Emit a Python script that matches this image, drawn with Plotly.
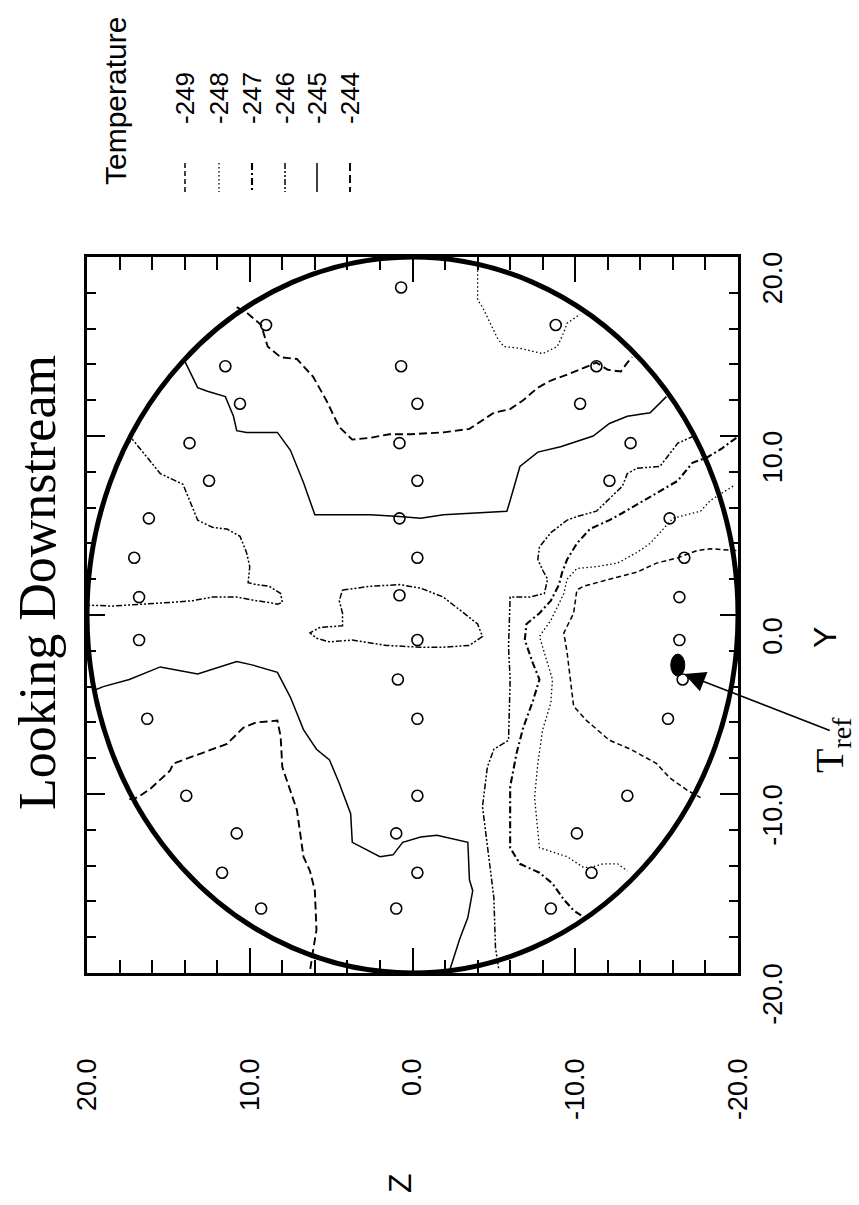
import plotly.graph_objects as go

# ---------------------------------------------------------------------------
# Data: probe rake positions, reference probe and isotherm traces (Z, Y)
# ---------------------------------------------------------------------------
LEVELS = [-249, -248, -247, -246, -245, -244]

TICKS = [-20, -10, 0, 10, 20]
TICK_TEXT = [f"{v:.1f}" for v in TICKS]

PROBE_Z = [0.7, 9.0, 11.5, 0.7, 10.6, -0.3, 13.7, 0.8, 12.5, -0.3, 16.2, 0.8, 17.1, -0.3,
           -8.8, -11.3, -10.3, -13.4, -12.1, -15.8, -16.7,
           16.8, 0.8, 16.8, -0.3, 0.9, 16.3, -0.3, 13.9, -0.3, 10.8, 1.0, 11.7, -0.3, 9.3, 1.0,
           -16.4, -16.4, -16.6, -15.7, -13.2, -10.1, -11.0, -8.5]
PROBE_Y = [18.3, 16.2, 13.9, 13.9, 11.8, 11.8, 9.6, 9.6, 7.5, 7.5, 5.4, 5.4, 3.2, 3.2,
           16.2, 13.9, 11.8, 9.6, 7.5, 5.4, 3.2,
           1.0, 1.1, -1.4, -1.4, -3.6, -5.8, -5.8, -10.1, -10.1, -12.2, -12.2, -14.4, -14.4, -16.4, -16.4,
           1.0, -1.4, -3.6, -5.8, -10.1, -12.2, -14.4, -16.4]

TREF_Z, TREF_Y = -16.3, -2.8
ARROW_TIP_Z, ARROW_TIP_Y = -16.7, -3.3

ISO_249 = [(-19.9, 3.6), (-18.3, 3.7), (-17.5, 3.6), (-16.3, 3.2), (-15.0, 2.9), (-13.8, 2.4),
           (-12.1, 2.0), (-10.5, 1.6), (-10.1, 1.4), (-9.9, 0.1), (-9.3, -1.0), (-9.5, -2.1),
           (-9.7, -3.6), (-9.9, -5.1), (-10.7, -5.9), (-12.1, -7.0), (-13.4, -7.5), (-15.0, -8.3),
           (-15.8, -9.1), (-16.9, -9.8), (-17.7, -10.2)]

ISO_248_LOW = [(-19.7, 7.2), (-18.3, 6.4), (-17.7, 5.8), (-16.9, 5.6), (-16.0, 5.4), (-15.4, 4.8),
               (-14.6, 4.0), (-13.8, 3.5), (-12.6, 2.9), (-11.3, 2.7), (-10.1, 2.6), (-9.5, 2.0),
               (-9.3, 1.2), (-8.5, -0.3), (-7.8, -1.2), (-8.3, -2.7), (-8.6, -3.6), (-8.5, -4.9),
               (-8.0, -6.4), (-7.7, -8.3), (-7.5, -10.2), (-7.8, -13.0), (-9.5, -13.5), (-10.5, -14.1),
               (-11.0, -14.1), (-11.7, -13.9), (-12.6, -13.9), (-13.2, -14.3)]

ISO_248_TOP = [(-4.0, 19.7), (-4.0, 18.7), (-4.0, 17.6), (-4.3, 17.2), (-5.2, 15.5), (-5.6, 15.0),
               (-6.6, 14.9), (-8.0, 14.6), (-8.9, 15.0), (-9.3, 15.8), (-9.5, 16.3), (-10.3, 16.8)]

ISO_247 = [(-19.9, 9.9), (-19.0, 9.3), (-18.1, 8.8), (-17.2, 8.5), (-16.3, 7.5), (-15.0, 6.8),
           (-14.2, 6.4), (-12.9, 5.7), (-12.1, 5.3), (-10.9, 4.8), (-10.1, 4.0), (-9.5, 3.1),
           (-9.2, 2.4), (-9.0, 1.7), (-8.5, 0.8), (-7.8, 0.1), (-7.0, -0.5), (-6.9, -1.4),
           (-7.4, -2.7), (-7.8, -3.6), (-7.4, -4.8), (-6.8, -6.3), (-6.4, -7.7), (-6.0, -9.6),
           (-6.0, -10.7), (-6.0, -13.0), (-6.6, -13.9), (-7.8, -14.4), (-8.6, -15.0), (-9.3, -15.9),
           (-9.9, -16.5), (-10.7, -17.0)]

ISO_246_RIGHT = [(-17.3, 10.0), (-16.3, 9.6), (-15.2, 8.3), (-13.8, 8.2), (-13.2, 7.9), (-12.9, 7.2),
                 (-11.3, 5.8), (-10.1, 5.5), (-9.5, 5.3), (-8.5, 4.6), (-7.8, 3.8), (-7.7, 3.1),
                 (-8.0, 2.5), (-8.3, 2.0), (-8.1, 1.2), (-7.2, 1.0), (-6.0, 1.0), (-5.9, -1.8),
                 (-6.0, -3.6), (-5.9, -7.0), (-5.0, -7.5), (-4.6, -8.5), (-4.3, -10.7), (-4.6, -13.0),
                 (-5.0, -15.8), (-5.1, -18.6), (-5.3, -19.8)]

ISO_246_LEFT = [(17.6, 9.5), (17.2, 9.8), (16.3, 8.8), (15.5, 7.9), (14.1, 7.3), (13.7, 6.4),
                (13.2, 5.3), (12.3, 4.9), (11.4, 4.8), (10.6, 4.4), (10.2, 3.5), (10.0, 2.7),
                (10.1, 1.8), (9.6, 1.7), (8.8, 1.6), (8.1, 1.2), (8.0, 0.7), (8.3, 0.6),
                (8.8, 0.7), (9.6, 0.8), (10.8, 1.0), (12.3, 1.0), (13.5, 0.8), (14.9, 0.7),
                (16.9, 0.6), (18.4, 0.5), (19.95, 0.55)]

ISO_246_ISLAND = [(4.3, 1.4), (2.6, 1.6), (0.8, 1.7), (-0.5, 1.5), (-1.9, 1.0), (-2.9, 0.3),
                  (-4.0, -0.5), (-4.3, -1.2), (-3.5, -1.7), (-1.9, -1.8), (-0.5, -1.8), (1.6, -1.7),
                  (3.7, -1.4), (5.1, -1.5), (5.9, -1.3), (6.3, -1.0), (5.7, -0.7), (4.3, -0.6),
                  (4.3, 0.1), (4.5, 0.8), (4.3, 1.4)]

ISO_245_UPPER = [(14.0, 14.2), (13.2, 12.7), (12.6, 12.5), (11.5, 12.2), (11.0, 11.1), (10.8, 10.3),
                 (10.2, 10.2), (8.3, 10.2), (7.5, 9.2), (6.7, 7.4), (6.0, 5.6), (4.6, 5.6),
                 (2.6, 5.6), (0.8, 5.5), (-0.5, 5.4), (-1.9, 5.6), (-4.0, 5.7), (-5.8, 5.8),
                 (-6.0, 6.4), (-6.6, 8.3), (-7.7, 9.1), (-9.1, 9.4), (-11.1, 10.0), (-12.1, 10.7),
                 (-13.2, 11.1), (-14.6, 11.3), (-15.6, 12.2)]

ISO_245_LOWER = [(19.55, -4.2), (19.0, -4.0), (17.4, -3.6), (15.5, -2.9), (13.2, -3.3), (10.8, -2.6),
                 (9.8, -2.8), (8.3, -3.2), (7.5, -4.6), (6.7, -6.4), (5.9, -7.5), (5.1, -8.1),
                 (4.5, -9.4), (3.8, -11.1), (3.7, -12.7), (2.0, -13.5), (1.2, -13.4), (0.6, -12.7),
                 (-0.5, -12.4), (-1.5, -12.3), (-3.4, -12.7), (-3.5, -14.8), (-3.7, -15.4),
                 (-3.4, -16.9), (-2.9, -18.1), (-2.3, -19.8)]

ISO_244_UPPER = [(10.8, 17.2), (10.2, 16.9), (9.3, 16.2), (8.9, 15.0), (8.1, 14.4), (7.1, 14.3),
                 (6.1, 13.3), (5.3, 12.0), (4.5, 10.5), (3.7, 9.8), (2.6, 9.9), (1.4, 10.1),
                 (0.15, 10.1), (-1.9, 10.2), (-3.5, 10.4), (-4.2, 10.8), (-5.0, 11.3), (-6.0, 11.5),
                 (-6.8, 12.0), (-7.7, 12.7), (-8.5, 13.1), (-9.7, 13.5), (-10.7, 13.9), (-11.3, 14.1),
                 (-12.0, 13.7), (-12.8, 13.6), (-13.2, 14.1), (-13.5, 14.4)]

ISO_244_LOWER = [(17.4, -10.3), (16.9, -10.2), (16.1, -9.7), (14.9, -8.7), (14.7, -8.3), (12.9, -7.7),
                 (11.4, -7.2), (10.4, -6.3), (9.6, -6.0), (8.3, -5.9), (8.1, -6.8), (8.0, -8.5),
                 (7.5, -9.9), (7.1, -10.9), (6.7, -13.5), (6.3, -14.3), (6.0, -15.4), (5.9, -17.6),
                 (6.1, -18.7), (6.3, -19.9)]

ISOTHERMS = [
    (-249, ISO_249),
    (-248, ISO_248_LOW), (-248, ISO_248_TOP),
    (-247, ISO_247),
    (-246, ISO_246_RIGHT), (-246, ISO_246_LEFT), (-246, ISO_246_ISLAND),
    (-245, ISO_245_UPPER), (-245, ISO_245_LOWER),
    (-244, ISO_244_UPPER), (-244, ISO_244_LOWER),
]

# ---------------------------------------------------------------------------
# Styling
# ---------------------------------------------------------------------------
LINE_STYLE = {
    -249: dict(dash="5px,3px", width=1.5),
    -248: dict(dash="1.5px,2.5px", width=1.3),
    -247: dict(dash="7px,3px,2px,3px", width=2.1),
    -246: dict(dash="6px,2px,2px,2px,2px,2px", width=1.5),
    -245: dict(dash="solid", width=1.5),
    -244: dict(dash="8px,4px", width=1.9),
}

W, H = 859, 1205
ML, MR, MT, MB = 87, 121, 257, 232
PW, PH = W - ML - MR, H - MT - MB


def xp(px):
    return (px - ML) / PW


def yp(py):
    return (H - MB - py) / PH


SANS = "Liberation Sans, Arial, sans-serif"
SERIF = "Liberation Serif, Times New Roman, serif"

fig = go.Figure()

for level, pts in ISOTHERMS:
    st = LINE_STYLE[level]
    fig.add_trace(go.Scatter(
        x=[p[0] for p in pts], y=[p[1] for p in pts], mode="lines",
        line=dict(color="black", width=st["width"], dash=st["dash"]),
        name=str(level), showlegend=False, hoverinfo="skip"))

fig.add_trace(go.Scatter(
    x=PROBE_Z, y=PROBE_Y, mode="markers", showlegend=False, hoverinfo="skip",
    marker=dict(symbol="circle-open", size=11, color="black", line=dict(width=1.6, color="black"))))

# duct wall
fig.add_shape(type="circle", xref="x", yref="y", x0=-20, x1=20, y0=-20, y1=20,
              line=dict(color="black", width=5), layer="above")

# reference thermocouple
fig.add_shape(type="circle", xref="x", yref="y", xsizemode="pixel", ysizemode="pixel",
              xanchor=TREF_Z, yanchor=TREF_Y, x0=-7, x1=7, y0=-11, y1=11,
              fillcolor="black", line=dict(color="black", width=1), layer="above")

# arrow pointing at the reference thermocouple
fig.add_annotation(x=ARROW_TIP_Z, y=ARROW_TIP_Y, xref="x", yref="y", ax=147, ay=57,
                   text="", showarrow=True, arrowhead=2, arrowsize=2.6, arrowwidth=1.6,
                   arrowcolor="black")

axis_common = dict(
    tickvals=TICKS, ticktext=TICK_TEXT, tickangle=-90, ticks="inside", tickwidth=1.5,
    tickcolor="black", showline=True, linewidth=2.5, linecolor="black", mirror="ticks",
    showgrid=False, zeroline=False, tickfont=dict(family=SANS, size=27, color="black"),
)

fig.update_layout(
    width=W, height=H, paper_bgcolor="white", plot_bgcolor="white",
    margin=dict(l=ML, r=MR, t=MT, b=MB, autoexpand=False),
    xaxis=dict(range=[20, -20], ticklen=25, ticklabelstandoff=72,
               minor=dict(dtick=2, tick0=0, ticks="inside", ticklen=13, tickwidth=1.5, tickcolor="black"),
               **axis_common),
    yaxis=dict(range=[-20, 20], side="right", ticklen=18, ticklabelstandoff=9, ticklabelshift=25,
               minor=dict(dtick=2, tick0=0, ticks="inside", ticklen=9, tickwidth=1.5, tickcolor="black"),
               **axis_common),
)


def rotated_label(text, px, py, family, size):
    fig.add_annotation(text=text, x=xp(px), y=yp(py), xref="paper", yref="paper",
                       textangle=-90, showarrow=False, xanchor="center", yanchor="middle",
                       font=dict(family=family, size=size, color="black"))


rotated_label("Looking Downstream", 37, 583, SERIF, 52)
rotated_label("Y", 825, 638, SANS, 32)
rotated_label("Z", 400, 1183, SANS, 32)
rotated_label("T<sub>ref</sub>", 832, 745, SERIF, 40)

# legend block
rotated_label("Temperature", 115, 101, SANS, 30)
LEG_X = [185, 219, 252, 285, 317, 350]
for lx, level in zip(LEG_X, LEVELS):
    rotated_label(str(level), lx, 98, SANS, 26)
    st = LINE_STYLE[level]
    fig.add_shape(type="line", xref="paper", yref="paper", x0=xp(lx), x1=xp(lx),
                  y0=yp(163), y1=yp(192), line=dict(color="black", width=st["width"], dash=st["dash"]))

fig.write_html("out.html")
